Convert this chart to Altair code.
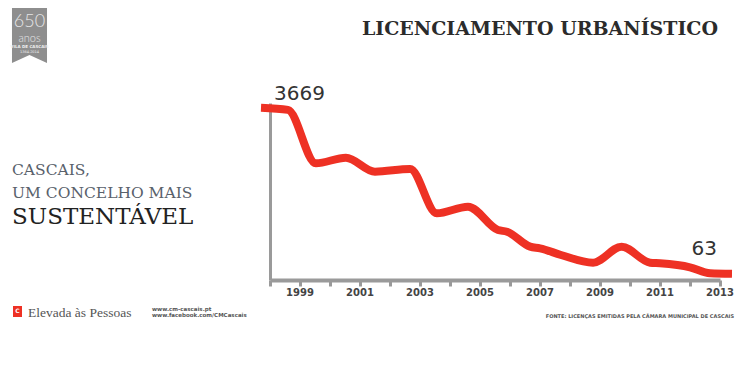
import altair as alt
import pandas as pd

# Curve (x = year position, value = licences issued)
x_pos = [1997.7, 1998.6, 1999.53, 2000.53, 2001.5, 2002.67, 2003.56, 2004.6,
         2005.6, 2005.9, 2006.67, 2007.0, 2007.7, 2008.77, 2009.72, 2010.67,
         2011.0, 2012.0, 2012.67, 2013.4]
values = [3669, 3620, 2462, 2584, 2280, 2339, 1377, 1521,
          1015, 978, 653, 618, 473, 305, 653, 305,
          292, 206, 75, 63]
tick_years = list(range(1998, 2014))
label_years = [1999, 2001, 2003, 2005, 2007, 2009, 2011, 2013]
first_label = {"x": [x_pos[0]], "v": [values[0]], "t": ["3669"]}
last_label = {"x": [x_pos[-1]], "v": [values[-1]], "t": ["63"]}

df = pd.DataFrame({"x": x_pos, "v": values})
one = pd.DataFrame({"a": [0]})

RED = "#ee3124"
GREY = "#9a9a9a"

xs = alt.Scale(domain=[1998, 2013], nice=False, zero=False)
ys = alt.Scale(domain=[-70, 3770], nice=False, zero=False)
x_axis = alt.Axis(values=tick_years, labels=False, tickSize=6, tickWidth=3,
                  tickColor=GREY, domainColor=GREY, domainWidth=4,
                  grid=False, title=None)
y_axis = alt.Axis(ticks=False, labels=False, grid=False, title=None,
                  domainColor=GREY, domainWidth=3)

line = alt.Chart(df).mark_line(
    color=RED, strokeWidth=8, interpolate="monotone", clip=False,
    strokeCap="butt"
).encode(
    x=alt.X("x:Q", scale=xs, axis=x_axis),
    y=alt.Y("v:Q", scale=ys, axis=y_axis),
)

year_labels = alt.Chart(pd.DataFrame({"x": label_years})).mark_text(
    baseline="top", align="center", font="DejaVu Sans", fontWeight="bold",
    fontSize=10, color="#444"
).encode(
    x=alt.X("x:Q", scale=xs, axis=x_axis),
    y=alt.value(185),
    text=alt.Text("x:Q", format="d"),
)

lab1 = alt.Chart(pd.DataFrame(first_label)).mark_text(
    align="left", baseline="alphabetic", dx=13, dy=-8,
    font="DejaVu Sans", fontSize=20, color="#333"
).encode(x=alt.X("x:Q", scale=xs, axis=x_axis), y=alt.Y("v:Q", scale=ys, axis=y_axis), text="t:N")

lab2 = alt.Chart(pd.DataFrame(last_label)).mark_text(
    align="right", baseline="alphabetic", dx=-15, dy=-19,
    font="DejaVu Sans", fontSize=20, color="#333"
).encode(x=alt.X("x:Q", scale=xs, axis=x_axis), y=alt.Y("v:Q", scale=ys, axis=y_axis), text="t:N")


def txt(s, x, y, size, color="#333", font="DejaVu Serif", weight="normal", align="left"):
    return alt.Chart(one).mark_text(
        align=align, baseline="alphabetic", font=font, fontSize=size,
        fontWeight=weight, color=color
    ).encode(x=alt.value(x), y=alt.value(y), text=alt.value(s))


title = txt("LICENCIAMENTO URBANÍSTICO", 448, -68, 19, "#2b2b2b", weight="bold", align="right")
left1 = txt("CASCAIS,", -258, 72, 15.5, "#59616b")
left2 = txt("UM CONCELHO MAIS", -258, 95, 15.5, "#59616b")
left3 = txt("SUSTENTÁVEL", -258, 121, 23, "#222")

ribbon = alt.Chart(one).mark_point(
    shape="M-0.556,-1 L0.556,-1 L0.556,1 L0,0.746 L-0.556,1 Z",
    filled=True, fill="#8e8e8e", stroke=None, size=3969, opacity=1
).encode(x=alt.value(-240.5), y=alt.value(-71.5))
r650 = txt("650", -240.5, -76, 18, "#e6e6e6", font="Lato", weight=300, align="center")
ranos = txt("anos", -240.5, -61, 11, "#e6e6e6", font="Lato", weight=300, align="center")
rsub1 = txt("VILA DE CASCAIS", -240.5, -55, 4, "#f0f0f0", font="DejaVu Sans", weight="bold", align="center")
rsub2 = txt("1364-2014", -240.5, -50, 3.5, "#f0f0f0", font="DejaVu Sans", align="center")

logo = alt.Chart(one).mark_rect(color=RED).encode(
    x=alt.value(-257), x2=alt.value(-248), y=alt.value(203), y2=alt.value(214))
logo_c = txt("C", -252.5, 210, 6, "white", font="DejaVu Sans", weight="bold", align="center")
elev = txt("Elevada às Pessoas", -242, 214, 13.5, "#555", font="Liberation Serif")
web1 = txt("www.cm-cascais.pt", -118, 208, 5.5, "#555", font="DejaVu Sans", weight="bold")
web2 = txt("www.facebook.com/CMCascais", -118, 214, 5.5, "#555", font="DejaVu Sans", weight="bold")
fonte = txt("FONTE: LICENÇAS EMITIDAS PELA CÂMARA MUNICIPAL DE CASCAIS", 464, 215, 5,
            "#555", font="DejaVu Sans", weight="bold", align="right")

chart = alt.layer(
    line, year_labels, lab1, lab2, title, left1, left2, left3, ribbon, r650, ranos,
    rsub1, rsub2, logo, logo_c, elev, web1, web2, fonte
).properties(
    width=450, height=177,
    autosize=alt.AutoSizeParams(type="none"),
    padding={"left": 262, "top": 95, "right": 25, "bottom": 80},
    background="white",
).configure_view(stroke=None)

chart.save("out.html", embed_options={"renderer": "svg", "actions": False})
